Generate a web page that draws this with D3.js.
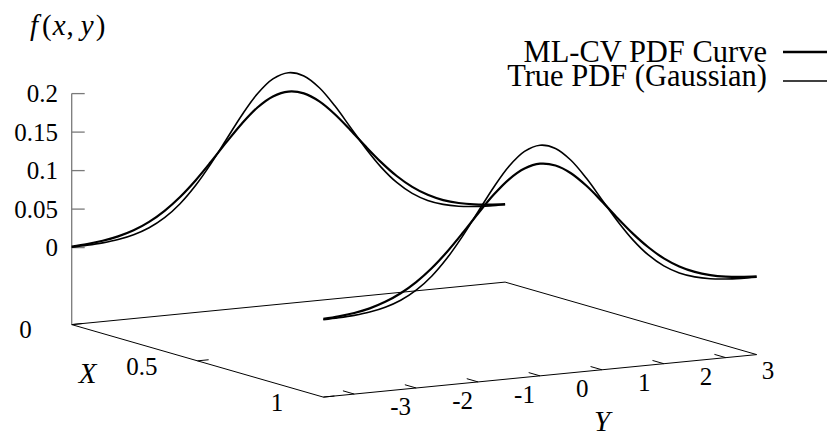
<!DOCTYPE html>
<html><head><meta charset="utf-8">
<script src="https://cdn.jsdelivr.net/npm/d3@7"></script>
<style>html,body{margin:0;padding:0;background:#fff;} svg{display:block;}</style>
</head><body><svg id="c" width="831" height="436"></svg>
<script>
// ---- data ----
const yGrid   = [-3.5,-3.25,-3,-2.75,-2.5,-2.25,-2,-1.75,-1.5,-1.25,-1,-0.75,-0.5,-0.25,0,0.25,0.5,0.75,1,1.25,1.5,1.75,2,2.25,2.5,2.75,3,3.25,3.5];
const truePdf = [0.0004,0.0010,0.0022,0.0045,0.0088,0.0159,0.0270,0.0432,0.0648,0.0913,0.1210,0.1506,0.1761,0.1934,0.1995,0.1934,0.1761,0.1506,0.1210,0.0913,0.0648,0.0432,0.0270,0.0159,0.0088,0.0045,0.0022,0.0010,0.0004];
const mlcvX0  = [0.0013,0.0026,0.0049,0.0087,0.0146,0.0236,0.0360,0.0520,0.0715,0.0938,0.1172,0.1395,0.1583,0.1707,0.1750,0.1707,0.1583,0.1397,0.1173,0.0937,0.0713,0.0516,0.0355,0.0232,0.0144,0.0086,0.0048,0.0026,0.0013];
const mlcvX1  = [0.0015,0.0029,0.0053,0.0093,0.0158,0.0250,0.0375,0.0535,0.0730,0.0953,0.1188,0.1410,0.1592,0.1712,0.1755,0.1712,0.1592,0.1409,0.1187,0.0952,0.0729,0.0532,0.0368,0.0244,0.0153,0.0092,0.0052,0.0028,0.0015];
const xTicks  = [0, 0.5, 1];
const xTickLabels = ["0", "0.5", "1"];
const yTicks  = [-3, -2, -1, 0, 1, 2, 3];
const yTickLabels = ["-3", "-2", "-1", "0", "1", "2", "3"];
const zTicks  = [0, 0.05, 0.1, 0.15, 0.2];
const zTickLabels = ["0", "0.05", "0.1", "0.15", "0.2"];
const legendNames = ["ML-CV PDF Curve", "True PDF (Gaussian)"];

// ---- projection (orthographic view built from linear scales) ----
const xDom = [0, 1], yDom = [-3.5, 3.5], zDom = [-0.1, 0.2];
const xSx = d3.scaleLinear().domain(xDom).range([0, 251.6]);
const xSy = d3.scaleLinear().domain(xDom).range([0, 72.5]);
const ySx = d3.scaleLinear().domain(yDom).range([71.7, 505.1]);
const ySy = d3.scaleLinear().domain(yDom).range([324.6, 282.1]);
const zS  = d3.scaleLinear().domain(zDom).range([0, -231]);
const proj = (x, y, z) => [ySx(y) + xSx(x), ySy(y) + xSy(x) + zS(z)];

const svg = d3.select("#c");
const font = "Liberation Serif, serif";
const line = d3.line().curve(d3.curveCatmullRom.alpha(0.5));
const txt = (x, y, s, size) => svg.append("text").attr("x", x).attr("y", y)
  .style("font-family", font).style("font-size", size + "px").text(s);

// base plane
const z0 = zDom[0];
const corners = [[0, yDom[0]], [1, yDom[0]], [1, yDom[1]], [0, yDom[1]], [0, yDom[0]]];
svg.append("path")
  .attr("d", d3.line()(corners.map(c => proj(c[0], c[1], z0))))
  .attr("fill", "none").attr("stroke", "#000").attr("stroke-width", 1);

// z axis
const zBase = proj(0, yDom[0], z0), zTop = proj(0, yDom[0], zDom[1]);
svg.append("line").attr("x1", zBase[0]).attr("y1", zBase[1]).attr("x2", zTop[0]).attr("y2", zTop[1])
  .attr("stroke", "#7a7a7a").attr("stroke-width", 1.3);
zTicks.forEach((t, i) => {
  const p = proj(0, yDom[0], t);
  svg.append("line").attr("x1", p[0]).attr("y1", p[1]).attr("x2", p[0] + 13).attr("y2", p[1])
    .attr("stroke", "#7a7a7a").attr("stroke-width", 1.3);
  txt(58, p[1], zTickLabels[i], 25).attr("dy", "0.34em").attr("text-anchor", "end");
});

// x axis ticks & labels
xTicks.forEach((t, i) => {
  const p = proj(t, yDom[0], z0), q = proj(t, yDom[0] + 0.18, z0);
  svg.append("line").attr("x1", p[0]).attr("y1", p[1]).attr("x2", q[0]).attr("y2", q[1])
    .attr("stroke", "#000").attr("stroke-width", 1);
  txt(p[0] - 40, p[1] + 5.3, xTickLabels[i], 25).attr("dy", "0.34em").attr("text-anchor", "end");
});

// y axis ticks & labels (front edge, X = 1)
yTicks.forEach((t, i) => {
  const p = proj(1, t, z0), q = proj(1 - 0.045, t, z0);
  svg.append("line").attr("x1", p[0]).attr("y1", p[1]).attr("x2", q[0]).attr("y2", q[1])
    .attr("stroke", "#000").attr("stroke-width", 1);
  txt(p[0] + 36, p[1] + 12.7, yTickLabels[i], 25).attr("dy", "0.34em").attr("text-anchor", "start");
});

// axis titles
txt(87.5, 383, "X", 29).attr("text-anchor", "middle").style("font-style", "italic");
txt(602, 431, "Y", 29).attr("text-anchor", "middle").style("font-style", "italic");
const ft = txt(30, 35, "", 29);
[["f", true, 0], ["(", false, 4], ["x", true, 1], [",", false, 1], ["y", true, 7], [")", false, 2]].forEach(s => {
  ft.append("tspan").style("font-style", s[1] ? "italic" : "normal").attr("dx", s[2]).text(s[0]);
});

// curves
const series = [
  { x: 0, vals: mlcvX0, w: 2.2 },
  { x: 0, vals: truePdf, w: 1.6 },
  { x: 1, vals: mlcvX1, w: 2.2 },
  { x: 1, vals: truePdf, w: 1.6 }
];
series.forEach(s => {
  svg.append("path")
    .attr("d", line(yGrid.map((y, i) => proj(s.x, y, s.vals[i]))))
    .attr("fill", "none").attr("stroke", "#000").attr("stroke-width", s.w)
    .attr("stroke-linejoin", "round");
});

// legend
const legY = [52, 81], legBase = [61.7, 86], legW = [2.6, 1.3];
legendNames.forEach((n, i) => {
  txt(767, legBase[i], n, 30.5).attr("text-anchor", "end");
  svg.append("line").attr("x1", 783).attr("x2", 827).attr("y1", legY[i]).attr("y2", legY[i])
    .attr("stroke", "#000").attr("stroke-width", legW[i]);
});
</script>
</body></html>
